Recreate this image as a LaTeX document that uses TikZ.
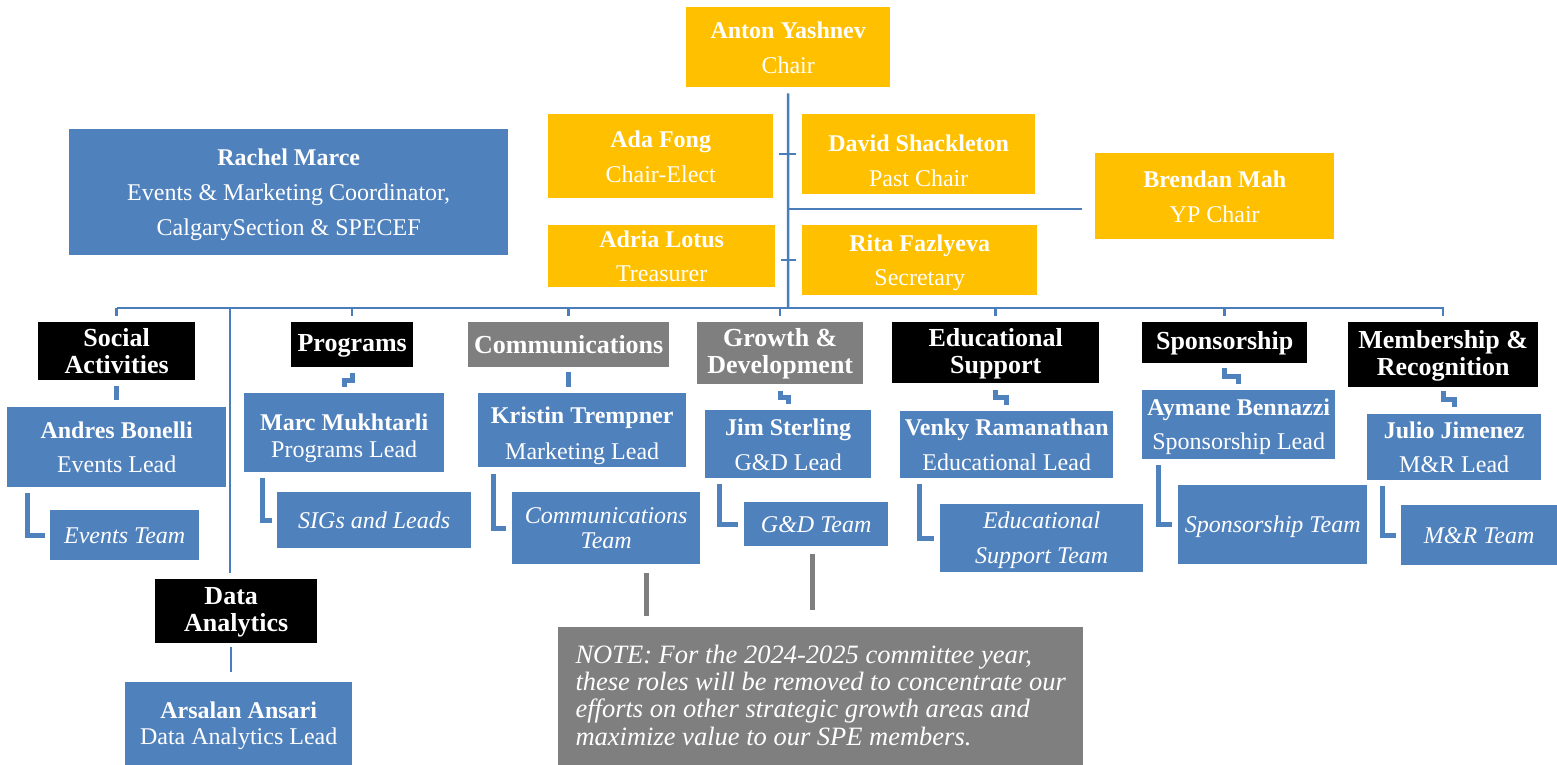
\documentclass[tikz,border=0pt]{standalone}
\usepackage{fontspec}
\setmainfont{Liberation Serif}
\usetikzlibrary{calc}
\definecolor{gold}{HTML}{FFC000}
\definecolor{sblue}{HTML}{4F81BD}
\definecolor{lblue}{HTML}{4A7EBB}
\definecolor{sgray}{HTML}{7F7F7F}
\newcommand\sttop{}
\newcommand\stbot{}
\newcommand\bx[7]{\node[#1, anchor=north west, minimum width={#5-#3}, minimum height={#6-#4}] (#2) at (#3,#4) {\sttop #7\stbot};}
\newcommand\setst[2]{\def\sttop{\rule{0pt}{#1em}}\def\stbot{\rule[-#2em]{0pt}{#2em}}}
\tikzset{
  base/.style={inner sep=0pt, align=center, text=white, font=\fontsize{24}{35}\selectfont,
    /utils/exec={\setst{0.9}{0.2}}},
  yel/.style={base, fill=gold},
  blu/.style={base, fill=sblue},
  cat/.style={base, fill=black, font=\fontsize{26}{27}\selectfont\bfseries,
    /utils/exec={\setst{0.77}{0.11}}},
  gcat/.style={cat, fill=sgray},
  team/.style={blu, font=\fontsize{24}{25}\selectfont\itshape,
    /utils/exec={\setst{0.88}{0.22}}},
  notebox/.style={base, fill=sgray, align=left, font=\fontsize{26.5}{27.3}\selectfont\itshape,
    /utils/exec={\setst{0.8}{0.2}}},
  conn/.style={draw=lblue, line width=2.5pt},
  elb/.style={draw=sblue, line width=5pt, line join=miter},
  gline/.style={draw=sgray, line width=5pt},
}
\begin{document}
\begin{tikzpicture}[x=1pt, y=-1pt]
\useasboundingbox (0,0) rectangle (1557,765);
% executive
\bx{yel}{anton}{686}{7}{890}{87}{\textbf{Anton Yashnev}\\Chair}
\bx{yel}{ada}{548}{114}{773}{198}{\textbf{Ada Fong}\\Chair-Elect}
\bx{yel}{david}{802}{114}{1035}{194}{\rule{0pt}{1.45em}\textbf{David Shackleton}\\Past Chair}
\bx{yel}{brendan}{1095}{153}{1334}{239}{\textbf{Brendan Mah}\\YP Chair}
\bx{yel}{adria}{548}{225}{775}{287}{\textbf{Adria Lotus}\\[-1pt]Treasurer}
\bx{yel}{rita}{802}{225}{1037}{295}{\textbf{Rita Fazlyeva}\\[-1pt]Secretary}
\bx{blu}{rachel}{69}{129}{508}{255}{\textbf{Rachel Marce}\\Events \& Marketing Coordinator,\\CalgarySection \& SPECEF}
% categories
\bx{cat}{social}{38}{322}{195}{380}{Social\\Activities}
\bx{cat}{programs}{291}{322}{413}{367}{Programs}
\bx{gcat}{comm}{468}{322}{669}{367}{Communications}
\bx{gcat}{growth}{697}{322}{863}{384}{Growth \&\\Development}
\bx{cat}{edu}{892}{322}{1099}{383}{Educational\\Support}
\bx{cat}{spons}{1142}{322}{1307}{363}{Sponsorship}
\bx{cat}{memb}{1348}{322}{1538}{387}{Membership \&\\Recognition}
\bx{cat}{data}{155}{579}{317}{643}{Data\hspace*{10pt}\\Analytics}
% leads
\bx{blu}{andres}{7}{407}{226}{487}{\textbf{Andres Bonelli}\\[-1pt]Events Lead}
\bx{blu}{marc}{244}{393}{444}{472}{\rule{0pt}{1.15em}\textbf{Marc Mukhtarli}\\[-8pt]Programs Lead}
\bx{blu}{kristin}{478}{393}{686}{467}{\rule{0pt}{1.15em}\textbf{Kristin Trempner}\\[1pt]Marketing Lead}
\bx{blu}{jim}{705}{410}{871}{478}{\textbf{Jim Sterling}\\G\&D Lead}
\bx{blu}{venky}{900}{411}{1113}{478}{\textbf{Venky Ramanathan}\\Educational Lead}
\bx{blu}{aymane}{1142}{390}{1335}{459}{\textbf{Aymane Bennazzi}\\[-1pt]Sponsorship Lead}
\bx{blu}{julio}{1367}{414}{1541}{480}{\textbf{Julio Jimenez}\\[-1pt]M\&R Lead}
\bx{blu}{arsalan}{125}{682}{352}{765}{\textbf{Arsalan Ansari}\\[-9pt]Data Analytics Lead}
% teams
\bx{team}{eventsT}{50}{510}{199}{560}{Events Team}
\bx{team}{sigs}{277}{492}{471}{548}{SIGs and Leads}
\bx{team}{commT}{512}{492}{700}{564}{Communications\\Team}
\bx{team}{gdT}{744}{502}{888}{546}{G\&D Team}
\bx{team}{eduT}{940}{504}{1143}{572}{Educational\\[10pt]Support Team}
\bx{team}{sponsT}{1178}{485}{1367}{564}{Sponsorship Team}
\bx{team}{mrT}{1401}{505}{1557}{565}{M\&R Team}
% note
\bx{notebox}{note}{558}{627}{1083}{765}{NOTE: For the 2024-2025 committee year,\\these roles will be removed to concentrate our\\efforts on other strategic growth areas and\\maximize value to our SPE members.}
% trunk
\coordinate (top) at ($(anton.south)+(0,6)$);
\coordinate (bus) at (788,308);
\draw[conn] (top) -- (bus);
\coordinate (t1) at (779,154);
\coordinate (t2) at (781,260);
\draw[conn] (t1) -- ++(17,0);
\draw[conn] (t2) -- ++(15,0);
\coordinate (bl) at (788,209);
\draw[conn] (bl) -- ($(bl -| brendan.west)+(-13,0)$);
% bus
\draw[conn] (social.north |- bus) -- (memb.north |- bus) -- ++(0,8);
\foreach \c in {social,programs,comm,growth,edu,spons}
  \draw[conn] (\c.north |- bus) -- ++(0,8);
\coordinate (dtop) at (230,308);
\draw[conn] (dtop) -- ($(dtop |- data.north)+(0,-6)$);
\draw[conn] ($(data.south)+(-5,4)$) -- ($(data.south |- arsalan.north)+(-5,-10)$);
% category to lead
\draw[elb] ($(social.south)+(0,6)$) -- ($(andres.north)+(0,-7)$);
\draw[elb] ($(programs.south)+(0,6)$) -- ++(0,7) -| ($(marc.north)+(0,-6)$);
\draw[elb] ($(comm.south)+(0,5)$) -- ($(comm.south |- kristin.north)+(0,-6)$);
\draw[elb] ($(growth.south)+(0,7)$) -- ++(0,6) -| ($(jim.north)+(0,-6)$);
\draw[elb] ($(edu.south)+(0,7)$) -- ++(0,7) -| ($(venky.north)+(0,-6)$);
\draw[elb] ($(spons.south)+(0,5)$) -- ++(0,8) -| ($(aymane.north)+(0,-6)$);
\draw[elb] ($(memb.south)+(0,4)$) -- ++(0,8) -| ($(julio.north)+(0,-7)$);
% lead to team
\draw[elb] ($(andres.south west)+(20,6)$) |- ($(eventsT.west)+(-5,0)$);
\draw[elb] ($(marc.south west)+(18,6)$) |- ($(sigs.west)+(-5,0)$);
\draw[elb] ($(kristin.south west)+(15,7)$) |- ($(commT.west)+(-6,0)$);
\draw[elb] ($(jim.south west)+(14,6)$) |- ($(gdT.west)+(-6,0)$);
\draw[elb] ($(venky.south west)+(19,6)$) |- ($(eduT.west)+(-6,0)$);
\draw[elb] ($(aymane.south west)+(16,6)$) |- ($(sponsT.west)+(-6,0)$);
\draw[elb] ($(julio.south west)+(15,6)$) |- ($(mrT.west)+(-5,0)$);
% gray lines to note
\draw[gline] ($(note.north west)+(88,-54)$) -- ($(note.north west)+(88,-11)$);
\draw[gline] ($(note.north west)+(254,-73)$) -- ($(note.north west)+(254,-17)$);
\end{tikzpicture}
\end{document}
